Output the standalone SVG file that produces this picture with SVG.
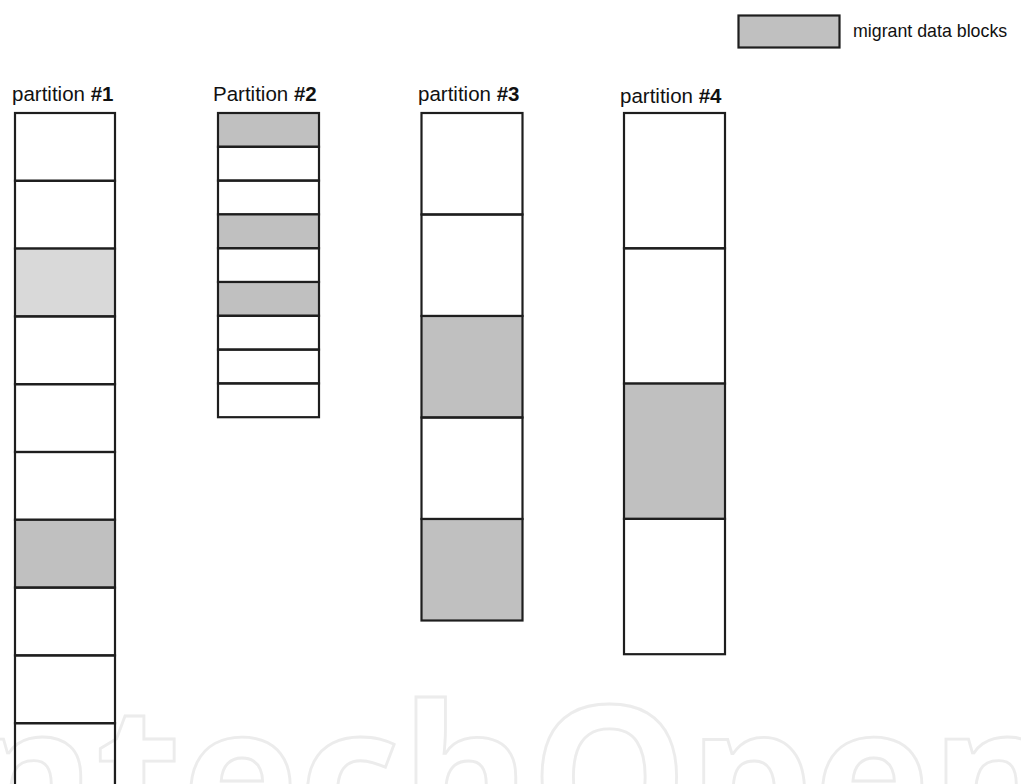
<svg xmlns="http://www.w3.org/2000/svg" width="1021" height="784" viewBox="0 0 1021 784">
  <style>
    .blk { fill: none; stroke: #1e1e1e; stroke-width: 2.2; }
    .mig { fill: #c0c0c0; stroke: #1e1e1e; stroke-width: 2.2; }
    .lite { fill: #d9d9d9; stroke: #1e1e1e; stroke-width: 2.2; }
    .lbl { font-family: "Liberation Sans", Arial, sans-serif; font-size: 20.5px; fill: #111; }
    .num { font-weight: bold; }
    .wm { font-family: "Open Sans", "Liberation Sans", sans-serif; font-weight: bold; font-size: 198px; fill: none; stroke: #ececec; stroke-width: 2.8; }
  </style>
  <rect x="0" y="0" width="1021" height="784" fill="#fff"/>

  <g id="watermark">
    <text class="wm" x="-100" y="847">IntechOpen</text>
  </g>

  <g id="legend">
    <rect class="mig" x="738.5" y="15.5" width="101" height="32"/>
    <text class="lbl" x="853" y="37" style="font-size:17.8px">migrant data blocks</text>
  </g>

  <g id="partition1">
    <text class="lbl" x="12" y="101">partition <tspan class="num">#1</tspan></text>
    <rect class="blk" x="15" y="113" width="100" height="67.8"/>
    <rect class="blk" x="15" y="180.8" width="100" height="67.8"/>
    <rect class="lite" x="15" y="248.6" width="100" height="67.8"/>
    <rect class="blk" x="15" y="316.4" width="100" height="67.8"/>
    <rect class="blk" x="15" y="384.2" width="100" height="67.8"/>
    <rect class="blk" x="15" y="452" width="100" height="67.8"/>
    <rect class="mig" x="15" y="519.8" width="100" height="67.8"/>
    <rect class="blk" x="15" y="587.6" width="100" height="67.8"/>
    <rect class="blk" x="15" y="655.4" width="100" height="67.8"/>
    <rect class="blk" x="15" y="723.2" width="100" height="67.8"/>
  </g>

  <g id="partition2">
    <text class="lbl" x="213" y="101">Partition <tspan class="num">#2</tspan></text>
    <rect class="mig" x="218" y="113" width="101" height="33.8"/>
    <rect class="blk" x="218" y="146.8" width="101" height="33.8"/>
    <rect class="blk" x="218" y="180.6" width="101" height="33.8"/>
    <rect class="mig" x="218" y="214.4" width="101" height="33.8"/>
    <rect class="blk" x="218" y="248.2" width="101" height="33.8"/>
    <rect class="mig" x="218" y="282" width="101" height="33.8"/>
    <rect class="blk" x="218" y="315.8" width="101" height="33.8"/>
    <rect class="blk" x="218" y="349.6" width="101" height="33.8"/>
    <rect class="blk" x="218" y="383.4" width="101" height="33.8"/>
  </g>

  <g id="partition3">
    <text class="lbl" x="418" y="101">partition <tspan class="num">#3</tspan></text>
    <rect class="blk" x="421.5" y="113" width="101" height="101.5"/>
    <rect class="blk" x="421.5" y="214.5" width="101" height="101.5"/>
    <rect class="mig" x="421.5" y="316" width="101" height="101.5"/>
    <rect class="blk" x="421.5" y="417.5" width="101" height="101.5"/>
    <rect class="mig" x="421.5" y="519" width="101" height="101.5"/>
  </g>

  <g id="partition4">
    <text class="lbl" x="620" y="103">partition <tspan class="num">#4</tspan></text>
    <rect class="blk" x="624" y="113" width="101" height="135.3"/>
    <rect class="blk" x="624" y="248.3" width="101" height="135.3"/>
    <rect class="mig" x="624" y="383.6" width="101" height="135.3"/>
    <rect class="blk" x="624" y="518.9" width="101" height="135.3"/>
  </g>
</svg>
